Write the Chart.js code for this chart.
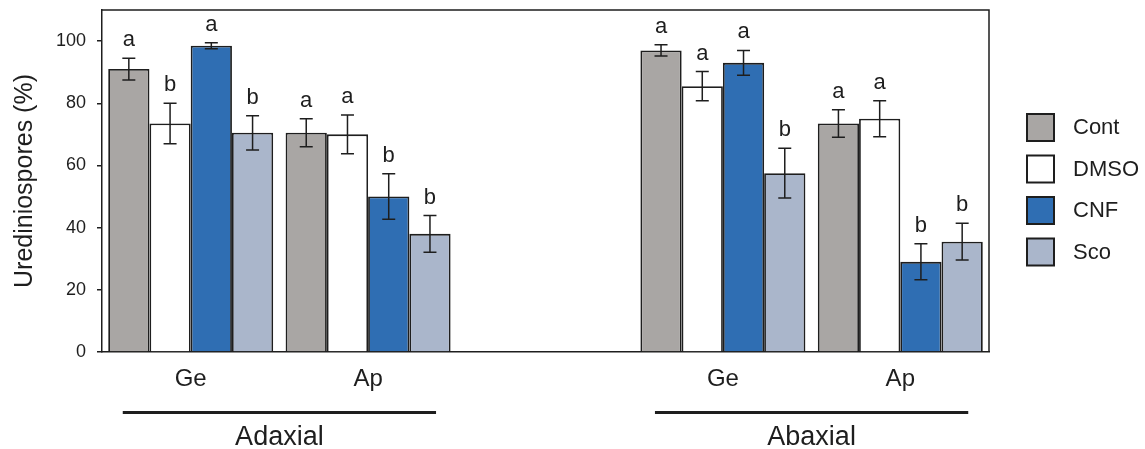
<!DOCTYPE html>
<html>
<head>
<meta charset="utf-8">
<script src="https://cdn.jsdelivr.net/npm/chart.js@4"></script>
<style>
  html, body { margin: 0; padding: 0; background: #fff; }
  #wrap { width: 1145px; height: 449px; }
</style>
</head>
<body>
<div id="wrap"><canvas id="chart"></canvas></div>
<script>
// data
const categories = ['Ge', 'Ap', '', 'Ge', 'Ap'];
const seriesNames = ['Cont', 'DMSO', 'CNF', 'Sco'];
const contValues = [91, 70.5, null, 97, 73.5];
const dmsoValues = [73.5, 70, null, 85.5, 75];
const cnfValues = [98.5, 50, null, 93, 29];
const scoValues = [70.5, 38, null, 57.5, 35.5];
const contErr = [3.5, 4.5, null, 1.8, 4.4];
const dmsoErr = [6.5, 6.2, null, 4.7, 5.8];
const cnfErr = [1, 7.3, null, 4, 5.8];
const scoErr = [5.5, 5.9, null, 8, 5.9];
const contSig = ['a', 'a', '', 'a', 'a'];
const dmsoSig = ['b', 'a', '', 'a', 'a'];
const cnfSig = ['a', 'b', '', 'a', 'b'];
const scoSig = ['b', 'b', '', 'b', 'b'];
const sideLabels = ['Adaxial', 'Abaxial'];
const sideSpans = [[0, 1], [3, 4]];
const yTicks = [0, 20, 40, 60, 80, 100];

const FONT = "'Liberation Sans', Arial, sans-serif";
const INK = '#1e1e1e';
const colors = ['#a9a6a4', '#ffffff', '#2f6eb3', '#aab6cb'];
const errs = [contErr, dmsoErr, cnfErr, scoErr];
const sigs = [contSig, dmsoSig, cnfSig, scoSig];

// error bars + significance letters
const errorBars = {
  id: 'errorBars',
  afterDatasetsDraw(chart) {
    const ctx = chart.ctx;
    const y = chart.scales.y;
    ctx.save();
    ctx.strokeStyle = INK;
    ctx.lineWidth = 1.5;
    ctx.fillStyle = INK;
    ctx.font = '22px ' + FONT;
    ctx.textAlign = 'center';
    ctx.textBaseline = 'alphabetic';
    chart.data.datasets.forEach((ds, i) => {
      chart.getDatasetMeta(i).data.forEach((bar, j) => {
        const v = ds.data[j];
        if (v == null) return;
        const e = errs[i][j];
        const top = y.getPixelForValue(v + e);
        const bot = y.getPixelForValue(v - e);
        ctx.beginPath();
        ctx.moveTo(bar.x, top); ctx.lineTo(bar.x, bot);
        ctx.moveTo(bar.x - 6.5, top); ctx.lineTo(bar.x + 6.5, top);
        ctx.moveTo(bar.x - 6.5, bot); ctx.lineTo(bar.x + 6.5, bot);
        ctx.stroke();
        ctx.fillText(sigs[i][j], bar.x, top - 12);
      });
    });
    ctx.restore();
  }
};

// box around plot, Adaxial / Abaxial brackets, legend
const decorations = {
  id: 'decorations',
  afterDraw(chart) {
    const ctx = chart.ctx;
    const a = chart.chartArea;
    const x = chart.scales.x;
    ctx.save();
    ctx.strokeStyle = INK;
    ctx.lineWidth = 1.5;
    ctx.beginPath();
    ctx.moveTo(a.left, a.top); ctx.lineTo(a.right, a.top); ctx.lineTo(a.right, a.bottom);
    ctx.stroke();

    const half = (x.getPixelForValue(1) - x.getPixelForValue(0)) * 0.383;
    ctx.lineWidth = 3;
    ctx.fillStyle = INK;
    ctx.font = '27px ' + FONT;
    ctx.textAlign = 'center';
    ctx.textBaseline = 'alphabetic';
    sideSpans.forEach((span, k) => {
      const x0 = x.getPixelForValue(span[0]) - half;
      const x1 = x.getPixelForValue(span[1]) + half;
      ctx.beginPath();
      ctx.moveTo(x0, 412.5); ctx.lineTo(x1, 412.5);
      ctx.stroke();
      ctx.fillText(sideLabels[k], (x0 + x1) / 2, 445);
    });

    ctx.font = '22px ' + FONT;
    ctx.textAlign = 'left';
    ctx.textBaseline = 'middle';
    ctx.lineWidth = 2;
    chart.data.datasets.forEach((ds, i) => {
      const by = 114 + i * 41.5;
      ctx.fillStyle = ds.backgroundColor;
      ctx.fillRect(1027, by, 27, 27);
      ctx.strokeRect(1027, by, 27, 27);
      ctx.fillStyle = INK;
      ctx.fillText(ds.label, 1073, by + 14);
    });
    ctx.restore();
  }
};

const valueSets = [contValues, dmsoValues, cnfValues, scoValues];

new Chart(document.getElementById('chart'), {
  type: 'bar',
  data: {
    labels: categories,
    datasets: seriesNames.map((name, i) => ({
      label: name,
      data: valueSets[i],
      backgroundColor: colors[i],
      borderColor: INK,
      borderWidth: 1.8,
      barPercentage: 1,
      categoryPercentage: 0.93
    }))
  },
  options: {
    responsive: true,
    maintainAspectRatio: false,
    animation: false,
    layout: { padding: { top: 10, right: 156, left: 0, bottom: 0 } },
    plugins: {
      legend: { display: false },
      tooltip: { enabled: false }
    },
    scales: {
      x: {
        grid: { display: false, drawTicks: false },
        border: { display: true, color: INK, width: 1.5 },
        ticks: { color: INK, font: { family: FONT, size: 24 }, padding: 13 },
        afterFit: s => { s.height = 97; }
      },
      y: {
        min: 0,
        max: 110,
        afterBuildTicks: s => { s.ticks = yTicks.map(v => ({ value: v })); },
        grid: { drawOnChartArea: false, drawTicks: true, tickLength: 5, color: INK, lineWidth: 1.5 },
        border: { display: true, color: INK, width: 1.5 },
        ticks: { color: INK, font: { family: FONT, size: 18 }, padding: 11 },
        title: {
          display: true,
          text: 'Urediniospores (%)',
          color: INK,
          font: { family: FONT, size: 25 },
          padding: { top: 10, bottom: 0 }
        },
        afterFit: s => { s.width = 102; s.paddingTop = 0; s.paddingBottom = 0; }
      }
    }
  },
  plugins: [errorBars, decorations]
});
</script>
</body>
</html>
